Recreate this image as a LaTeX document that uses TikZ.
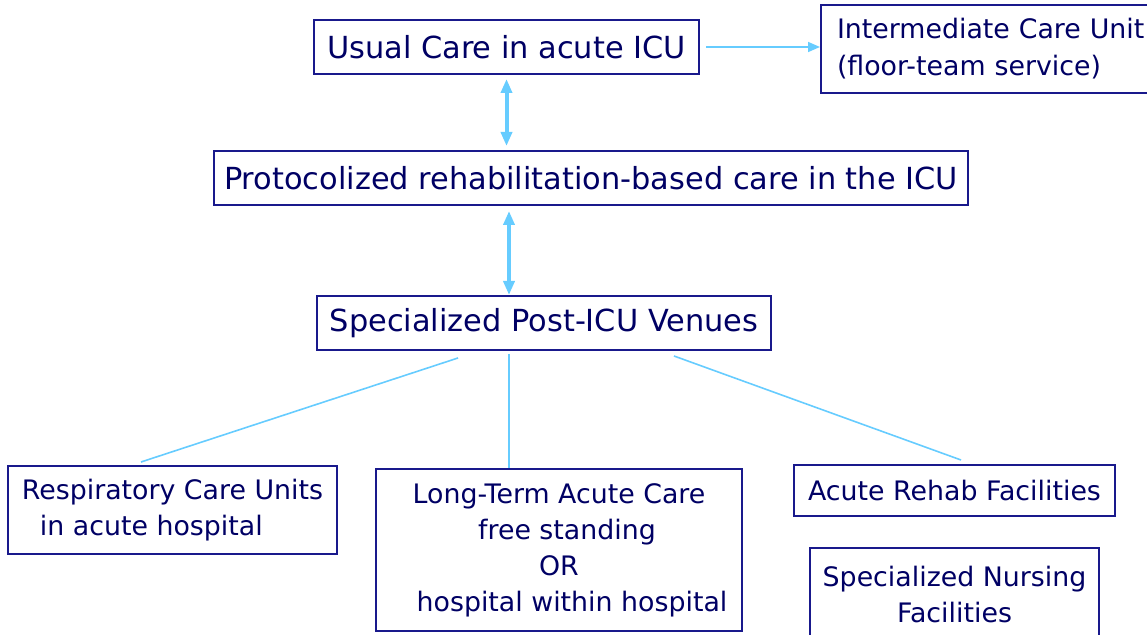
\documentclass[tikz,border=0pt]{standalone}
\usepackage{fontspec}
\setmainfont{DejaVu Sans}
\usetikzlibrary{arrows.meta,calc}

\definecolor{boxline}{RGB}{25,25,140}
\definecolor{boxtext}{RGB}{0,0,100}
\definecolor{linkblue}{RGB}{102,204,255}

\tikzset{
  box/.style={draw=boxline, line width=1pt, text=boxtext, inner sep=0pt},
  big/.style={font=\fontsize{15.2}{18}\selectfont},
  small/.style={font=\fontsize{13.4}{18}\selectfont},
  link/.style={linkblue, line width=0.8pt},
  twoway/.style={linkblue, line width=2pt, {Triangle[length=7pt,width=5.5pt]}-{Triangle[length=7pt,width=5.5pt]}},
}

\begin{document}
\begin{tikzpicture}[x=0.5pt,y=-0.5pt]

\useasboundingbox (0,0) rectangle (1147,635);

% ICU levels
\node[box, big, minimum width=192.5pt, minimum height=27pt] (usual) at (506.5,47) {Usual Care in acute ICU};
\node[box, small, align=left, text width=156pt, inner xsep=8pt, minimum height=44pt,
      font=\fontsize{13.4}{18.5}\selectfont] (inter) at (993,49)
  {Intermediate Care Unit\\(floor-team service)};
\node[box, big, minimum width=377pt, minimum height=27pt] (proto) at (591,178) {Protocolized rehabilitation-based care in the ICU};
\node[box, big, minimum width=227pt, minimum height=27pt] (venues) at (544,323) {Specialized Post-ICU Venues};

% Post-ICU venues
\node[box, small, align=left, minimum width=164.5pt, minimum height=44pt] (resp) at (172.5,510)
  {Respiratory Care Units\\\hspace*{9pt}in acute hospital};
\node[box, small, align=center, minimum width=183pt, minimum height=81pt] (ltac) at (559,550)
  {Long-Term Acute Care\\\hspace*{8pt}free standing\\OR\\\hspace*{13pt}hospital within hospital};
\node[box, small, minimum width=160.5pt, minimum height=25.5pt] (rehab) at (954.5,490.5) {Acute Rehab Facilities};
\node[box, small, align=center, minimum width=144.5pt, minimum height=46.5pt] (nursing) at (954.5,594.5)
  {Specialized Nursing\\Facilities};

% Arrows
\draw[link, -{Triangle[length=6pt,width=5pt]}] ([xshift=3pt]usual.east) -- (usual.east -| inter.west);
\draw[twoway] ([yshift=-2pt]usual.south) -- ([yshift=2pt]usual.south |- proto.north);
\draw[twoway] ($(usual.south |- proto.south)+(2.5,5)$) -- ($(usual.south |- venues.north)+(2.5,0)$);

% Spokes
\draw[link] ($(venues.south)+(-86,7)$) -- ($(resp.north)+(-31.5,-3)$);
\draw[link] ($(venues.south)+(-35,3)$) -- ($(ltac.north)+(-50,0)$);
\draw[link] ($(venues.south)+(130,5)$) -- ($(rehab.north)+(6.5,-4)$);

\end{tikzpicture}
\end{document}
